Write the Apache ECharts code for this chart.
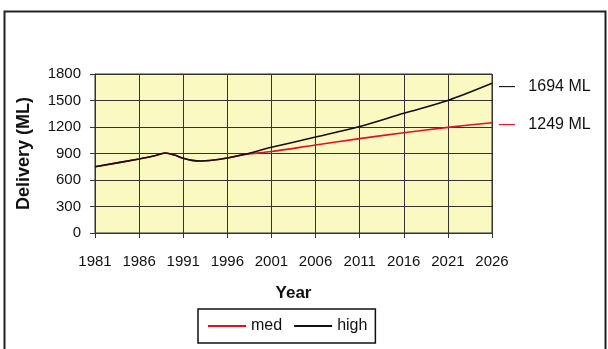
<!DOCTYPE html>
<html>
<head>
<meta charset="utf-8">
<script src="https://cdn.jsdelivr.net/npm/echarts@6/dist/echarts.min.js"></script>
<style>
  html, body { margin: 0; padding: 0; background: #fff; }
  #chart { width: 608px; height: 349px; }
</style>
</head>
<body>
<div id="chart"></div>
<script>
// years on the axis (every year, labels every 5)
var years = [];
for (var y = 1981; y <= 2026; y++) years.push(String(y));

// values
var highYears = ['1981', '1986', '1988', '1989', '1990', '1991', '1992', '1993', '1994', '1996', '1998', '2001', '2006', '2011', '2016', '2021', '2026'];
var highValues = [750, 838, 880, 905, 882, 845, 822, 815, 820, 850, 892, 970, 1086, 1205, 1355, 1500, 1694];

var medYears = ['1981', '1986', '1988', '1989', '1990', '1991', '1992', '1993', '1994', '1996', '1998', '2001', '2006', '2011', '2016', '2021', '2026'];
var medValues = [750, 838, 880, 905, 882, 845, 822, 815, 820, 850, 890, 922, 996, 1068, 1135, 1196, 1249];

function pairs(xs, vs) {
  var out = [];
  for (var i = 0; i < xs.length; i++) out.push([xs[i], vs[i]]);
  return out;
}

var font = "'Liberation Sans', Arial, sans-serif";
var chart = echarts.init(document.getElementById('chart'));

var option = {
  backgroundColor: '#fff',
  animation: false,
  graphic: [{
    type: 'rect',
    shape: { x: 4.5, y: 11.5, width: 601, height: 345 },
    style: { fill: 'none', stroke: '#222', lineWidth: 2 },
    z: 0
  }],
  grid: {
    left: 95, right: 116, top: 74, bottom: 116,
    show: true, backgroundColor: '#fbf9c2', borderColor: '#333', borderWidth: 1
  },
  xAxis: {
    type: 'category',
    data: years,
    boundaryGap: false,
    name: 'Year',
    nameLocation: 'middle',
    nameGap: 52,
    nameTextStyle: { fontFamily: font, fontSize: 17, fontWeight: 'bold', color: '#111' },
    axisLine: { lineStyle: { color: '#333' } },
    axisTick: { interval: 4, length: 5, lineStyle: { color: '#333' } },
    axisLabel: { interval: 4, margin: 21, fontFamily: font, fontSize: 15, color: '#111' },
    splitLine: { show: true, interval: 4, lineStyle: { color: '#333', width: 1 } }
  },
  yAxis: {
    type: 'value',
    min: 0, max: 1800, interval: 300,
    name: 'Delivery (ML)',
    nameLocation: 'middle',
    nameGap: 62,
    nameTextStyle: { fontFamily: font, fontSize: 18, fontWeight: 'bold', color: '#111' },
    axisLine: { show: true, lineStyle: { color: '#333' } },
    axisTick: { show: true, length: 5, lineStyle: { color: '#333' } },
    axisLabel: {
      margin: 14, fontFamily: font, fontSize: 15, color: '#111',
      formatter: function (v) { return String(v); }
    },
    splitLine: { show: true, lineStyle: { color: '#333', width: 1 } }
  },
  legend: {
    data: ['med', 'high'],
    top: 309,
    left: 198,
    itemWidth: 38, itemHeight: 2, itemGap: 12,
    icon: 'rect',
    padding: [9, 8, 9, 10],
    borderColor: '#111', borderWidth: 1.5,
    textStyle: { fontFamily: font, fontSize: 16, color: '#111', padding: [0, 0, 0, 0] }
  },
  series: [
    {
      name: 'med', type: 'line', smooth: 0.3, symbol: 'none',
      data: pairs(medYears, medValues),
      lineStyle: { color: '#e0102a', width: 1.6 },
      itemStyle: { color: '#e0102a' },
      endLabel: {
        show: true, distance: 7, offset: [0, 2],
        formatter: '{d|—}   1249 ML',
        fontFamily: font, fontSize: 16, color: '#111',
        rich: { d: { color: '#e0102a', fontSize: 16, fontFamily: font } }
      },
      z: 2
    },
    {
      name: 'high', type: 'line', smooth: 0.3, symbol: 'none',
      data: pairs(highYears, highValues),
      lineStyle: { color: '#111', width: 1.6 },
      itemStyle: { color: '#111' },
      endLabel: {
        show: true, distance: 7, offset: [0, 3],
        formatter: '{d|—}   1694 ML',
        fontFamily: font, fontSize: 16, color: '#111',
        rich: { d: { color: '#111', fontSize: 16, fontFamily: font } }
      },
      z: 3
    }
  ]
};
chart.setOption(option);
</script>
</body>
</html>
